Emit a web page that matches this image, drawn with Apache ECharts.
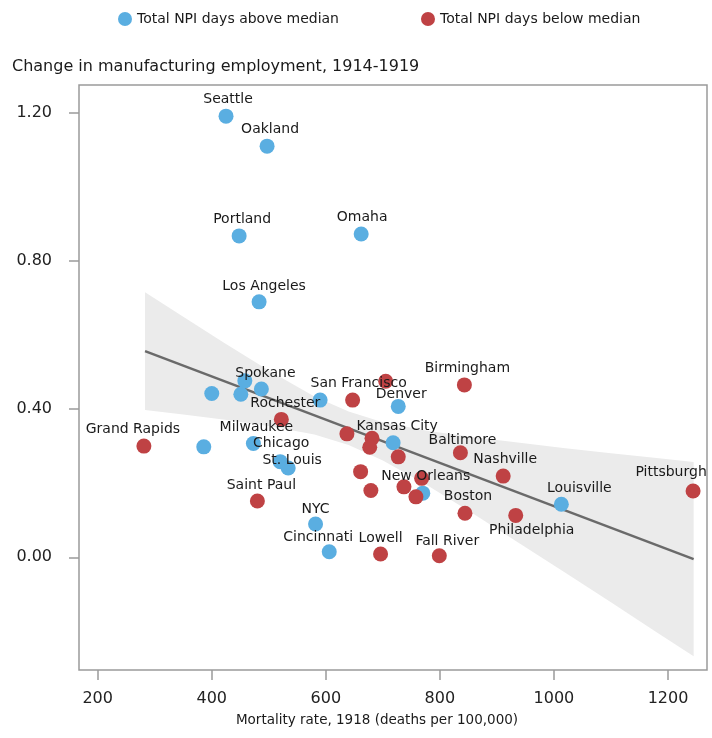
<!DOCTYPE html>
<html>
<head>
<meta charset="utf-8">
<script src="https://cdn.jsdelivr.net/npm/echarts@6/dist/echarts.min.js"></script>
<style>
  html, body { margin: 0; padding: 0; background: #fff; }
  #chart { width: 712px; height: 738px; }
</style>
</head>
<body>
<div id="chart"></div>
<script>
// 数据: 1918 mortality (x) vs change in manufacturing employment 1914-1919 (y)
// cities with total NPI days above median (blue)
const namesAbove = ['Seattle', 'Oakland', 'Portland', 'Omaha', 'Los Angeles', '', 'Spokane', '', '', '',
    'Denver', '', 'Milwaukee', 'Chicago', 'St. Louis', 'Kansas City', 'New Orleans', 'Louisville', 'NYC', 'Cincinnati'];
const mortalityAbove = [425, 497, 448, 662, 483, 458, 487, 400, 451, 590,
    727, 386, 473, 520, 534, 718, 770, 1013, 582, 606];
const changeAbove = [1.190, 1.109, 0.867, 0.872, 0.689, 0.476, 0.454, 0.442, 0.440, 0.424,
    0.407, 0.298, 0.307, 0.258, 0.241, 0.309, 0.173, 0.143, 0.090, 0.015];

// cities with total NPI days below median (red)
const namesBelow = ['Grand Rapids', 'Rochester', 'Saint Paul', '', 'San Francisco', 'Birmingham', '', '', '', '',
    'Baltimore', 'Nashville', '', '', '', '', '', 'Boston', 'Philadelphia', 'Pittsburgh', 'Lowell', 'Fall River'];
const mortalityBelow = [281, 522, 480, 705, 647, 843, 637, 681, 677, 727,
    836, 911, 661, 679, 737, 758, 768, 844, 933, 1244, 696, 799];
const changeBelow = [0.300, 0.372, 0.152, 0.475, 0.424, 0.465, 0.333, 0.321, 0.297, 0.271,
    0.282, 0.219, 0.231, 0.180, 0.190, 0.163, 0.213, 0.119, 0.113, 0.179, 0.009, 0.004];

// fitted line and its confidence band
const fitX = [283, 1245];
const fitY = [0.556, -0.005];
const bandX = [283, 350, 420, 500, 580, 640, 700, 780, 860, 940, 1020, 1100, 1180, 1245];
const bandUpper = [0.715, 0.649, 0.580, 0.504, 0.434, 0.393, 0.364, 0.341, 0.324, 0.309, 0.294, 0.281, 0.268, 0.257];
const bandLower = [0.397, 0.385, 0.372, 0.354, 0.331, 0.303, 0.261, 0.192, 0.116, 0.037, -0.042, -0.121, -0.202, -0.267];

// axis ticks
const xTicks = [200, 400, 600, 800, 1000, 1200];
const yTicks = [0, 0.4, 0.8, 1.2];

const legendAbove = 'Total NPI days above median';
const legendBelow = 'Total NPI days below median';

// label offsets (px, relative to point centre)
const labelOffsets = {
    'Seattle': [2, -17], 'Oakland': [3, -17], 'Portland': [3, -17], 'Omaha': [1, -17],
    'Los Angeles': [5, -16], 'Spokane': [4, -16], 'Denver': [3, -12], 'Milwaukee': [3, -16],
    'Chicago': [1, -18], 'St. Louis': [4, -8], 'Kansas City': [4, -16], 'New Orleans': [3, -17],
    'Louisville': [18, -16], 'NYC': [0, -15], 'Cincinnati': [-11, -14], 'Grand Rapids': [-11, -17],
    'Rochester': [4, -16], 'Saint Paul': [4, -16], 'San Francisco': [6, -17], 'Birmingham': [3, -17],
    'Baltimore': [2, -12], 'Nashville': [2, -17], 'Boston': [3, -17], 'Philadelphia': [16, 15],
    'Pittsburgh': [-22, -19], 'Lowell': [0, -16], 'Fall River': [8, -14]
};

const FONT = 'DejaVu Sans';
const BLUE = '#5aaee1';
const RED = '#bf4244';

function buildPoints(names, xs, ys) {
    return names.map((n, i) => ({
        name: n,
        value: [xs[i], ys[i]],
        label: n ? { show: true, offset: labelOffsets[n] || [0, -16] } : { show: false }
    }));
}

const pointLabel = {
    position: 'inside',
    formatter: '{b}',
    color: '#1a1a1a',
    fontFamily: FONT,
    fontSize: 14,
    textBorderWidth: 0
};

const myChart = echarts.init(document.getElementById('chart'));

const option = {
    animation: false,
    backgroundColor: '#fff',
    textStyle: { fontFamily: FONT },
    title: {
        text: 'Change in manufacturing employment, 1914-1919',
        left: 12, top: 59, padding: 0,
        textStyle: { fontFamily: FONT, fontSize: 16, fontWeight: 'normal', color: '#1a1a1a' }
    },
    legend: {
        data: [legendAbove, legendBelow],
        left: 118, top: 12, padding: 0,
        icon: 'circle', itemWidth: 14, itemHeight: 14, itemGap: 82,
        textStyle: { fontFamily: FONT, fontSize: 14, color: '#1a1a1a' },
        selectedMode: false
    },
    grid: {
        left: 79, right: 5, top: 85, bottom: 68,
        show: true, borderColor: '#9a9a9a', borderWidth: 1.5,
        containLabel: false, outerBoundsMode: 'none'
    },
    xAxis: {
        type: 'value', min: 167.2, max: 1268.4,
        name: 'Mortality rate, 1918 (deaths per 100,000)',
        nameLocation: 'middle', nameGap: 43,
        nameTextStyle: { fontFamily: FONT, fontSize: 13.5, color: '#1a1a1a', padding: [0, 32, 0, 0] },
        axisLine: { show: false, onZero: false },
        splitLine: { show: false },
        axisTick: { show: true, length: 10, customValues: xTicks, lineStyle: { color: '#9a9a9a', width: 1.5 } },
        axisLabel: {
            customValues: xTicks, margin: 21, fontFamily: FONT, fontSize: 16, color: '#222',
            formatter: v => String(v)
        }
    },
    yAxis: {
        type: 'value', min: -0.304, max: 1.274,
        axisLine: { show: false, onZero: false },
        splitLine: { show: false },
        axisTick: { show: true, length: 10, customValues: yTicks, lineStyle: { color: '#9a9a9a', width: 1.5 } },
        axisLabel: {
            customValues: yTicks, margin: 27, fontFamily: FONT, fontSize: 16, color: '#222',
            formatter: v => v.toFixed(2)
        }
    },
    series: [
        {
            // 置信带
            type: 'custom',
            silent: true,
            z: 1,
            clip: true,
            data: [[bandX[0], bandUpper[0]]],
            renderItem: function (params, api) {
                const pts = [];
                for (let i = 0; i < bandX.length; i++) pts.push(api.coord([bandX[i], bandUpper[i]]));
                for (let i = bandX.length - 1; i >= 0; i--) pts.push(api.coord([bandX[i], bandLower[i]]));
                return { type: 'polygon', shape: { points: pts }, style: { fill: '#ebebeb' } };
            }
        },
        {
            // 回归线
            type: 'line',
            silent: true,
            z: 2,
            showSymbol: false,
            data: fitX.map((x, i) => [x, fitY[i]]),
            lineStyle: { color: '#6a6a6a', width: 2.5 }
        },
        {
            name: legendAbove,
            type: 'scatter',
            z: 3,
            symbolSize: 15,
            itemStyle: { color: BLUE, opacity: 1 },
            label: pointLabel,
            emphasis: { disabled: true },
            data: buildPoints(namesAbove, mortalityAbove, changeAbove)
        },
        {
            name: legendBelow,
            type: 'scatter',
            z: 3,
            symbolSize: 15,
            itemStyle: { color: RED, opacity: 1 },
            label: pointLabel,
            emphasis: { disabled: true },
            data: buildPoints(namesBelow, mortalityBelow, changeBelow)
        }
    ]
};

myChart.setOption(option);
</script>
</body>
</html>
